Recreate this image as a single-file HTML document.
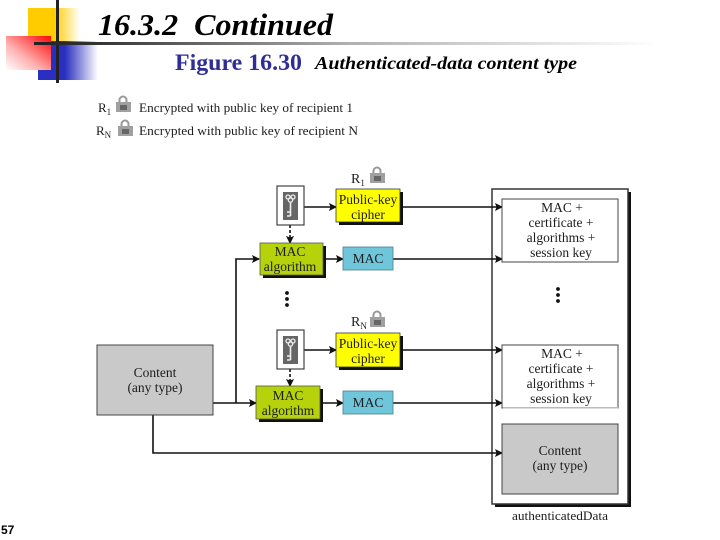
<!DOCTYPE html>
<html><head><meta charset="utf-8"><style>
html,body{margin:0;padding:0;background:#fff}
body{width:720px;height:540px;overflow:hidden;position:relative}
svg{position:absolute;left:0;top:0}
text{font-family:"Liberation Serif",serif;fill:#1c1c1c}
.b{font-size:13.5px;text-anchor:middle}
</style></head><body>
<svg width="720" height="540" viewBox="0 0 720 540" xmlns="http://www.w3.org/2000/svg">
<defs>
<linearGradient id="y" x1="0" x2="1" y1="0" y2="0"><stop offset="0" stop-color="#ffcc00"/><stop offset=".5" stop-color="#ffcc00"/><stop offset="1" stop-color="#fff"/></linearGradient>
<linearGradient id="bl" x1="0" x2="1" y1="0" y2="0"><stop offset="0" stop-color="#2a2fc0"/><stop offset=".45" stop-color="#2a2fc0"/><stop offset="1" stop-color="#fff"/></linearGradient>
<linearGradient id="r" x1="1" x2="0" y1="0" y2="1"><stop offset="0" stop-color="#ff0808"/><stop offset=".15" stop-color="#ff3030"/><stop offset=".6" stop-color="#ffb0b0"/><stop offset="1" stop-color="#fff"/></linearGradient>
<linearGradient id="h" x1="0" x2="1" y1="0" y2="0"><stop offset="0" stop-color="#222"/><stop offset=".1" stop-color="#333"/><stop offset=".5" stop-color="#b0b0b0"/><stop offset="1" stop-color="#fff"/></linearGradient>
<marker id="a" markerWidth="9" markerHeight="9" refX="7" refY="4" orient="auto" markerUnits="userSpaceOnUse"><path d="M0 0L8 4L0 8L1.5 4z" fill="#111"/></marker>
<g id="lock"><path d="M3.5 6V4a3.5 3.5 0 0 1 7 0v2" fill="none" stroke="#999" stroke-width="2"/><rect x="0" y="6" width="15" height="10" fill="#a0a0a0"/><rect x="4" y="9" width="7" height="5" fill="#666"/></g>
<g id="key"><rect x="0" y="0" width="27" height="39" fill="#fff" stroke="#444" stroke-width="1.2"/><rect x="6" y="6" width="15" height="28" fill="#666"/><circle cx="11" cy="11" r="2" fill="none" stroke="#eee" stroke-width="1.3"/><circle cx="16" cy="11" r="2" fill="none" stroke="#eee" stroke-width="1.3"/><circle cx="13.5" cy="14" r="2.2" fill="none" stroke="#eee" stroke-width="1.3"/><path d="M13.5 16V30M13.5 26H10M13.5 30H10" stroke="#eee" stroke-width="1.6" fill="none"/></g>
</defs>

<rect x="28" y="8" width="52" height="44" fill="url(#y)"/>
<rect x="38" y="41" width="60" height="39" fill="url(#bl)"/>
<rect x="6" y="36" width="45" height="34" fill="url(#r)"/>
<rect x="56" y="0" width="3" height="83" fill="#222"/>
<rect x="34" y="42" width="626" height="3" fill="url(#h)"/>

<text x="98" y="35" style="font-size:31px;font-weight:bold;font-style:italic;fill:#000" xml:space="preserve" textLength="235" lengthAdjust="spacingAndGlyphs">16.3.2  Continued</text>
<text x="175" y="70" style="font-size:23px;font-weight:bold;fill:#2e2e96" textLength="127" lengthAdjust="spacingAndGlyphs">Figure 16.30</text>
<text x="315" y="69" style="font-size:18px;font-weight:bold;font-style:italic;fill:#000" textLength="262" lengthAdjust="spacingAndGlyphs">Authenticated-data content type</text>

<text x="98" y="112" style="font-size:13px">R<tspan dy="3" style="font-size:9px">1</tspan></text>
<use href="#lock" x="116" y="96"/>
<text x="139" y="112" style="font-size:12.5px" textLength="214" lengthAdjust="spacingAndGlyphs">Encrypted with public key of recipient 1</text>
<text x="96" y="135" style="font-size:13px">R<tspan dy="3" style="font-size:9px">N</tspan></text>
<use href="#lock" x="118" y="120"/>
<text x="139" y="135" style="font-size:12.5px" textLength="219" lengthAdjust="spacingAndGlyphs">Encrypted with public key of recipient N</text>

<!-- outer -->
<rect x="495" y="192" width="136" height="315" fill="#111"/>
<rect x="492" y="189" width="136" height="315" fill="#fff" stroke="#333" stroke-width="1.5"/>

<!-- connectors -->
<g stroke="#111" stroke-width="1.6" fill="none">
<path d="M304 207H336" marker-end="url(#a)"/>
<path d="M403 207H502" marker-end="url(#a)"/>
<path d="M323 259H343" marker-end="url(#a)"/>
<path d="M393 259H502" marker-end="url(#a)"/>
<path d="M236 403V259H259" marker-end="url(#a)"/>
<path d="M213 403H256" marker-end="url(#a)"/>
<path d="M304 350H336" marker-end="url(#a)"/>
<path d="M403 350H502" marker-end="url(#a)"/>
<path d="M322 403H343" marker-end="url(#a)"/>
<path d="M393 403H502" marker-end="url(#a)"/>
<path d="M153 415V453H502" marker-end="url(#a)"/>
<path d="M290 225V243" stroke-dasharray="3 2" marker-end="url(#a)"/>
<path d="M290 369V386" stroke-dasharray="3 2" marker-end="url(#a)"/>
</g>

<use href="#key" x="277" y="186"/>
<use href="#key" x="277" y="330"/>

<!-- top row -->
<text x="351" y="183" style="font-size:14px">R<tspan dy="3" style="font-size:9px">1</tspan></text>
<use href="#lock" x="370" y="167"/>
<rect x="339" y="192" width="64" height="33" fill="#111"/>
<rect x="336" y="189" width="64" height="33" fill="#ffff00" stroke="#333" stroke-width=".8"/>
<text class="b" x="368" y="204">Public-key</text><text class="b" x="368" y="219">cipher</text>

<rect x="263" y="246" width="63" height="32" fill="#111"/>
<rect x="260" y="243" width="63" height="32" fill="#b5d20a" stroke="#555" stroke-width=".8"/>
<text class="b" x="290" y="256">MAC</text><text class="b" x="290" y="271">algorithm</text>

<rect x="343" y="247" width="50" height="23" fill="#6fc5da" stroke="#4a7f8e" stroke-width=".8"/>
<text class="b" x="368" y="263">MAC</text>

<circle cx="287" cy="293" r="1.9" fill="#111"/><circle cx="287" cy="299" r="1.9" fill="#111"/><circle cx="287" cy="305" r="1.9" fill="#111"/>
<circle cx="558" cy="289" r="1.9" fill="#111"/><circle cx="558" cy="295" r="1.9" fill="#111"/><circle cx="558" cy="301" r="1.9" fill="#111"/>

<!-- second row -->
<text x="351" y="326" style="font-size:14px">R<tspan dy="3" style="font-size:9px">N</tspan></text>
<use href="#lock" x="370" y="311"/>
<rect x="339" y="336" width="64" height="34" fill="#111"/>
<rect x="336" y="333" width="64" height="34" fill="#ffff00" stroke="#333" stroke-width=".8"/>
<text class="b" x="368" y="348">Public-key</text><text class="b" x="368" y="363">cipher</text>

<rect x="259" y="389" width="64" height="33" fill="#111"/>
<rect x="256" y="386" width="64" height="33" fill="#b5d20a" stroke="#555" stroke-width=".8"/>
<text class="b" x="288" y="400">MAC</text><text class="b" x="288" y="415">algorithm</text>

<rect x="343" y="391" width="50" height="23" fill="#6fc5da" stroke="#4a7f8e" stroke-width=".8"/>
<text class="b" x="368" y="407">MAC</text>

<!-- content left -->
<rect x="97" y="345" width="116" height="70" fill="#c9c9c9" stroke="#444" stroke-width="1"/>
<text class="b" x="155" y="377">Content</text><text class="b" x="155" y="392">(any type)</text>

<!-- inner boxes -->
<rect x="502" y="199" width="116" height="63" fill="#fff" stroke="#444" stroke-width="1"/>
<text class="b" x="562" y="212">MAC +</text><text class="b" x="561" y="227">certificate +</text><text class="b" x="561" y="242">algorithms +</text><text class="b" x="561" y="257">session key</text>

<rect x="502" y="345" width="116" height="63" fill="#fff" stroke="#444" stroke-width="1"/>
<rect x="503" y="407" width="115" height="1.5" fill="#bbb"/>
<text class="b" x="562" y="358">MAC +</text><text class="b" x="561" y="373">certificate +</text><text class="b" x="561" y="388">algorithms +</text><text class="b" x="561" y="403">session key</text>

<rect x="502" y="424" width="116" height="70" fill="#c9c9c9" stroke="#444" stroke-width="1"/>
<text class="b" x="560" y="455">Content</text><text class="b" x="560" y="470">(any type)</text>

<text class="b" x="560" y="520" style="font-size:12.5px" textLength="96" lengthAdjust="spacingAndGlyphs">authenticatedData</text>

<text x="1" y="534" style="font-family:'Liberation Sans',sans-serif;font-size:12px;font-weight:bold;fill:#000">57</text>
</svg>
</body></html>
